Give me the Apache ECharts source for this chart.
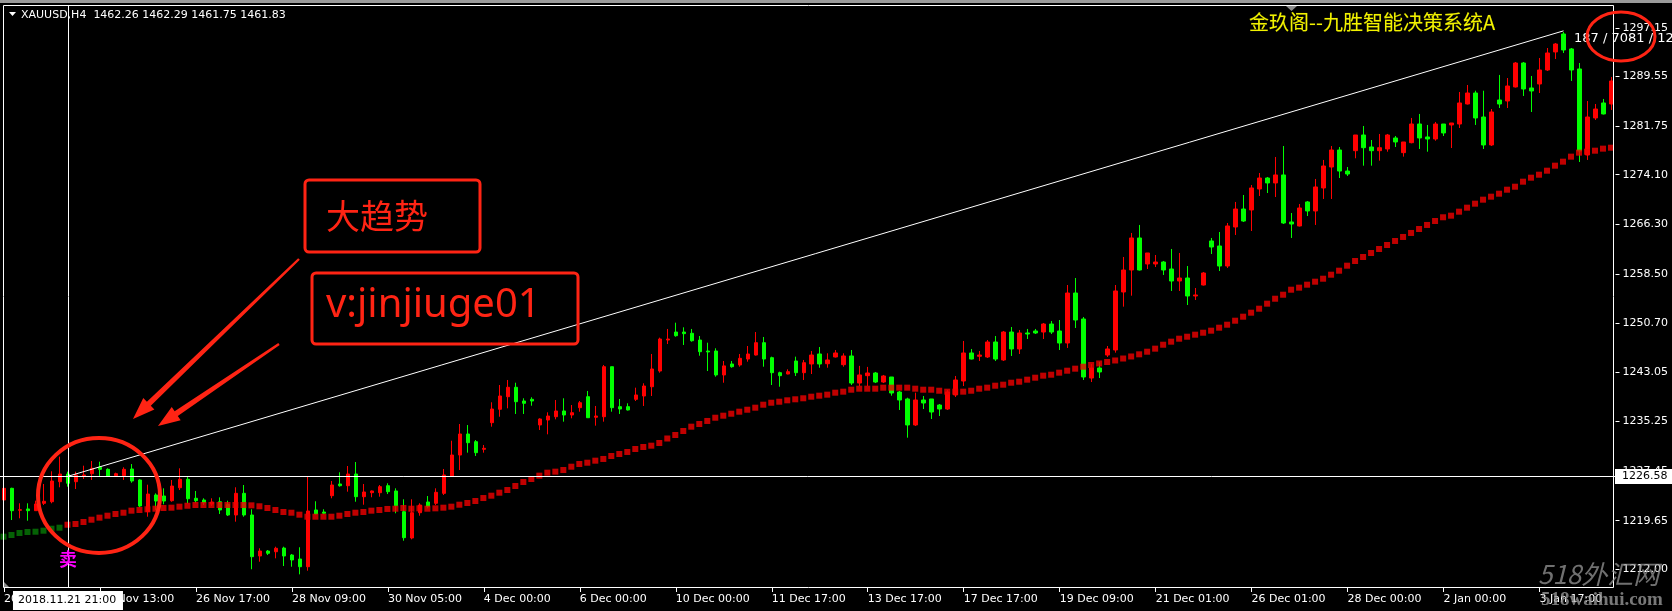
<!DOCTYPE html>
<html>
<head>
<meta charset="utf-8">
<script src="https://cdn.jsdelivr.net/npm/echarts@6/dist/echarts.min.js"></script>
<style>
html,body{margin:0;padding:0;background:#000;}
#c{width:1672px;height:611px;}
</style>
</head>
<body>
<div id="c"></div>
<script>
// ---- data (XAUUSD H4) ----
const tickLabels = ['20 Nov 13:00','22 Nov 13:00','26 Nov 17:00','28 Nov 09:00','30 Nov 05:00','4 Dec 00:00','6 Dec 00:00','10 Dec 00:00','11 Dec 17:00','13 Dec 17:00','17 Dec 17:00','19 Dec 09:00','21 Dec 01:00','26 Dec 01:00','28 Dec 00:00','2 Jan 00:00','3 Jan 17:00'];
const yTicks = [1212.00,1219.65,1227.45,1235.25,1243.05,1250.70,1258.50,1266.30,1274.10,1281.75,1289.55,1297.15];

const open = [1222.90,1224.74,1221.28,1221.49,1221.22,1222.38,1222.63,1225.78,1226.99,1225.78,1226.63,1227.04,1228.05,1227.73,1226.73,1226.73,1227.78,1226.05,1221.06,1223.69,1223.53,1222.79,1224.83,1226.16,1223.17,1222.90,1222.27,1222.63,1222.22,1220.54,1223.95,1220.54,1214.09,1214.87,1214.76,1215.34,1214.24,1213.61,1212.40,1221.33,1221.01,1223.58,1225.42,1225.15,1226.99,1223.42,1224.05,1224.05,1225.15,1224.32,1221.06,1216.92,1220.90,1222.59,1222.38,1223.95,1226.68,1229.98,1233.29,1232.08,1230.88,1235.07,1237.18,1239.16,1240.64,1238.48,1238.75,1234.71,1235.49,1236.01,1236.91,1236.28,1237.43,1239.16,1235.92,1236.01,1243.88,1237.59,1237.59,1238.75,1239.27,1240.73,1243.20,1248.08,1249.34,1249.34,1249.14,1248.08,1246.35,1246.35,1242.58,1244.31,1244.15,1245.09,1245.72,1247.66,1245.30,1242.94,1242.73,1244.78,1242.94,1244.31,1245.88,1244.35,1245.41,1244.20,1245.57,1241.31,1242.47,1242.89,1241.47,1242.26,1239.90,1238.80,1234.71,1238.64,1238.80,1237.85,1237.22,1239.43,1241.63,1246.04,1245.52,1245.41,1247.77,1244.94,1249.34,1246.67,1249.19,1249.50,1249.34,1250.60,1249.50,1247.61,1255.48,1251.39,1242.10,1243.68,1245.72,1246.51,1255.64,1259.10,1264.14,1260.05,1260.05,1260.36,1259.26,1257.37,1257.84,1255.01,1256.74,1263.67,1262.88,1259.73,1265.87,1268.70,1268.55,1271.85,1273.58,1272.80,1274.06,1266.66,1266.03,1269.81,1268.39,1272.01,1275.31,1277.99,1274.68,1277.88,1280.35,1278.46,1277.88,1278.15,1279.88,1277.57,1279.14,1282.08,1280.04,1279.72,1282.08,1281.93,1282.08,1285.23,1286.96,1283.18,1278.78,1285.86,1285.70,1287.91,1291.68,1287.75,1288.38,1290.58,1293.42,1296.25,1293.89,1290.74,1277.20,1283.03,1285.39,1285.23];
const close = [1224.74,1221.22,1221.38,1221.22,1222.27,1222.70,1225.89,1226.99,1225.53,1226.84,1226.84,1227.89,1227.73,1226.68,1227.04,1227.73,1225.89,1221.96,1223.84,1222.74,1222.74,1225.10,1226.16,1223.10,1222.79,1222.48,1222.59,1221.33,1220.54,1223.95,1220.54,1213.98,1214.87,1214.51,1215.30,1214.09,1213.46,1212.40,1221.17,1220.70,1220.81,1225.26,1225.15,1226.99,1223.42,1224.16,1224.32,1225.00,1224.21,1222.00,1216.97,1220.90,1222.11,1221.85,1224.11,1226.84,1229.98,1233.29,1231.92,1230.35,1231.04,1237.22,1239.27,1240.64,1238.37,1238.12,1238.48,1235.65,1236.12,1236.91,1236.28,1236.64,1238.21,1235.85,1236.12,1243.88,1237.43,1237.22,1237.07,1239.43,1240.84,1243.52,1248.24,1248.24,1248.76,1249.08,1247.97,1246.24,1246.20,1242.58,1244.01,1243.88,1245.20,1245.88,1247.66,1245.09,1242.94,1242.47,1243.10,1242.94,1244.51,1245.72,1244.31,1244.94,1246.04,1245.57,1241.31,1242.58,1242.89,1241.47,1242.42,1239.74,1238.64,1234.71,1238.64,1238.17,1236.75,1237.22,1239.90,1241.79,1246.04,1245.09,1245.72,1247.77,1245.09,1249.34,1246.67,1249.19,1249.03,1249.19,1250.60,1249.34,1247.61,1255.48,1251.23,1242.26,1243.68,1243.05,1246.67,1255.80,1259.10,1264.14,1259.10,1261.78,1260.36,1259.10,1257.37,1257.84,1255.01,1255.17,1258.63,1262.72,1259.73,1266.03,1268.70,1266.81,1272.01,1273.58,1272.80,1274.06,1266.50,1266.34,1268.86,1268.39,1272.17,1275.47,1277.99,1274.68,1274.21,1280.35,1278.35,1277.88,1278.35,1280.35,1279.25,1279.25,1282.08,1279.88,1279.72,1282.08,1280.67,1282.24,1285.39,1286.96,1283.03,1278.78,1283.97,1285.23,1288.06,1291.68,1287.59,1287.28,1290.58,1293.26,1294.67,1293.73,1290.58,1277.83,1283.18,1284.44,1283.66,1288.85];
const low = [1222.38,1219.75,1220.02,1219.64,1221.22,1222.11,1222.38,1224.90,1225.00,1224.63,1226.21,1226.05,1226.68,1226.60,1226.63,1226.05,1225.62,1221.75,1220.27,1221.33,1222.22,1222.63,1224.47,1222.38,1222.48,1222.11,1221.96,1220.70,1220.38,1219.49,1220.27,1212.00,1213.19,1214.24,1213.72,1212.51,1212.40,1211.20,1211.77,1220.62,1220.65,1223.17,1225.00,1224.21,1222.63,1222.16,1223.33,1223.42,1223.84,1220.81,1216.49,1216.71,1220.43,1221.59,1222.11,1223.69,1226.57,1227.62,1230.35,1229.83,1230.35,1234.44,1236.01,1237.33,1236.44,1236.44,1237.74,1233.92,1233.24,1235.60,1235.23,1235.76,1236.80,1235.81,1234.60,1235.23,1236.80,1236.44,1236.99,1238.48,1237.70,1239.27,1242.94,1247.45,1248.60,1247.30,1247.82,1245.61,1243.20,1242.31,1241.36,1243.72,1243.88,1244.67,1245.64,1243.88,1241.00,1240.73,1242.69,1242.42,1241.79,1242.73,1243.72,1243.72,1245.33,1243.88,1241.00,1240.84,1240.84,1241.31,1241.31,1239.32,1237.07,1232.71,1234.55,1237.22,1235.65,1236.12,1237.07,1239.11,1240.84,1245.02,1244.78,1245.25,1244.78,1244.78,1245.57,1245.88,1248.24,1249.03,1248.24,1249.03,1246.51,1246.83,1249.97,1241.79,1241.47,1242.10,1245.41,1246.09,1253.33,1255.06,1259.02,1259.26,1259.57,1258.32,1255.80,1255.80,1253.59,1254.38,1256.66,1261.62,1258.94,1259.42,1264.61,1266.66,1265.24,1270.75,1271.22,1270.59,1266.34,1264.14,1265.95,1267.60,1266.19,1270.28,1270.28,1273.58,1273.90,1276.68,1275.52,1275.52,1276.31,1277.72,1278.46,1276.94,1279.04,1278.15,1277.72,1279.45,1280.19,1278.30,1281.45,1285.15,1281.93,1278.15,1278.62,1284.60,1284.60,1287.83,1286.49,1283.97,1286.96,1290.43,1292.31,1293.26,1288.85,1276.10,1276.42,1282.71,1283.58,1284.29];
const high = [1228.68,1224.83,1222.38,1222.38,1222.79,1225.42,1227.42,1229.72,1227.36,1227.36,1228.30,1229.04,1228.93,1227.89,1227.20,1228.05,1228.56,1226.16,1225.31,1223.95,1224.74,1226.05,1227.89,1226.57,1224.32,1223.17,1223.17,1223.32,1222.79,1224.90,1225.26,1221.44,1215.30,1215.03,1215.55,1215.55,1214.40,1215.46,1226.57,1222.70,1221.44,1225.89,1227.26,1228.25,1228.88,1225.42,1224.40,1225.26,1225.53,1224.74,1223.01,1223.01,1222.38,1223.53,1224.74,1227.78,1232.23,1234.86,1234.70,1232.34,1231.56,1238.28,1241.00,1241.79,1241.36,1238.91,1239.07,1235.76,1236.70,1238.64,1238.91,1237.85,1238.48,1240.06,1237.70,1244.15,1243.88,1238.80,1238.12,1240.58,1241.27,1245.88,1248.45,1249.82,1250.81,1250.08,1249.82,1248.71,1247.66,1246.78,1244.78,1244.78,1245.88,1247.14,1249.34,1248.56,1245.46,1243.10,1243.47,1245.46,1244.94,1246.35,1246.98,1245.99,1246.51,1245.99,1246.51,1244.01,1243.85,1243.05,1242.58,1242.26,1240.06,1239.00,1239.79,1239.27,1238.80,1238.01,1240.21,1242.42,1247.93,1246.67,1246.35,1248.08,1248.71,1249.50,1250.13,1249.66,1249.82,1249.82,1250.76,1251.07,1251.23,1256.74,1257.84,1251.70,1244.31,1244.62,1247.14,1256.74,1261.15,1264.93,1266.19,1261.78,1261.46,1260.52,1262.41,1261.78,1259.73,1256.27,1258.79,1264.14,1265.08,1266.50,1269.81,1270.91,1272.48,1274.37,1273.74,1276.89,1278.62,1268.07,1269.49,1269.96,1273.43,1276.42,1278.62,1278.46,1275.31,1280.35,1281.77,1279.56,1280.51,1280.51,1280.19,1279.25,1283.03,1283.66,1281.93,1282.40,1282.08,1282.24,1287.12,1288.22,1287.32,1287.32,1284.44,1289.80,1289.32,1291.84,1291.84,1289.64,1292.47,1294.04,1294.83,1296.56,1294.04,1291.68,1285.70,1285.23,1286.02,1289.48];
const maLine = [1217.13,1217.39,1217.71,1217.86,1217.91,1218.07,1218.38,1218.54,1219.01,1219.12,1219.44,1219.80,1220.12,1220.43,1220.70,1220.90,1221.22,1221.33,1221.44,1221.53,1221.64,1221.69,1221.85,1222.00,1222.11,1222.11,1222.11,1222.11,1222.11,1222.11,1222.11,1222.06,1221.91,1221.64,1221.33,1221.01,1220.90,1220.59,1220.27,1220.27,1220.27,1220.27,1220.43,1220.70,1220.90,1221.01,1221.22,1221.33,1221.49,1221.53,1221.64,1221.53,1221.59,1221.53,1221.59,1221.69,1221.85,1222.16,1222.43,1222.74,1223.21,1223.58,1224.05,1224.47,1225.10,1225.73,1226.21,1226.73,1227.20,1227.36,1227.62,1228.14,1228.57,1228.77,1229.09,1229.36,1229.83,1230.14,1230.46,1230.93,1231.24,1231.45,1231.87,1232.58,1233.13,1233.76,1234.44,1234.86,1235.34,1235.85,1236.17,1236.48,1236.80,1237.11,1237.43,1237.90,1238.21,1238.37,1238.59,1238.75,1238.91,1239.16,1239.32,1239.48,1239.79,1239.95,1240.26,1240.42,1240.42,1240.42,1240.58,1240.58,1240.58,1240.58,1240.42,1240.26,1240.26,1240.10,1239.95,1239.95,1239.95,1240.10,1240.42,1240.58,1240.89,1241.05,1241.36,1241.52,1241.84,1242.15,1242.47,1242.62,1242.94,1243.25,1243.57,1243.88,1244.15,1244.39,1244.62,1244.86,1245.17,1245.49,1245.83,1246.24,1246.72,1247.34,1247.82,1248.29,1248.60,1248.92,1249.23,1249.55,1250.02,1250.49,1251.12,1251.75,1252.38,1253.01,1253.80,1254.58,1255.21,1256.00,1256.32,1256.79,1257.26,1257.73,1258.36,1258.99,1259.78,1260.52,1261.15,1261.78,1262.41,1263.04,1263.67,1264.30,1264.93,1265.55,1266.19,1266.81,1267.40,1267.65,1268.28,1268.91,1269.54,1270.17,1270.64,1271.11,1271.74,1272.21,1273.00,1273.63,1274.10,1274.73,1275.52,1276.15,1276.94,1277.57,1277.72,1277.88,1278.20,1278.35];
const maGreenBars = 8;           // first bars of the trend line drawn green
const crossBar = 8, crossPrice = 1226.58;
const trendStart = [8, 1226.63], trendEnd = [195, 1296.74];
const headerText = 'XAUUSD,H4  1462.26 1462.29 1461.75 1461.83';
const titleText = '金玖阁--九胜智能决策系统A';
const infoText = '187 / 7081 / 1297.15';

// ---- build ----
const categories = open.map((_, i) => String(i));
const ohlc = open.map((o, i) => [o, close[i], low[i], high[i]]);
const maGreen = maLine.slice(0, maGreenBars).map((v, i) => [i, v]);
const maRed = maLine.slice(maGreenBars).map((v, i) => [i + maGreenBars, v]);

const chart = echarts.init(document.getElementById('c'), null, {renderer: 'canvas', width: 1672, height: 611});
const FONT = '"DejaVu Sans", sans-serif';
const RED = '#ff2414';

chart.setOption({
  animation: false,
  backgroundColor: '#000',
  grid: {left: -0.5, top: 5, width: 1616, height: 583, show: false},
  xAxis: {
    type: 'category', data: categories, boundaryGap: true,
    axisLine: {show: false},
    axisTick: {show: true, alignWithLabel: true, interval: 11, length: 4, lineStyle: {color: '#fff'}},
    axisLabel: {interval: 11, align: 'left', color: '#fff', fontFamily: FONT, fontSize: 11, margin: 6,
      formatter: (v, idx) => (idx % 12 === 0 ? (tickLabels[idx / 12] || '') : '')},
    splitLine: {show: false}
  },
  yAxis: {
    type: 'value', position: 'right', min: 1209.05, max: 1300.81, scale: true,
    axisLine: {show: false},
    splitLine: {show: false},
    axisTick: {show: true, length: 4, customValues: yTicks, lineStyle: {color: '#fff'}},
    axisLabel: {customValues: yTicks, color: '#fff', fontFamily: FONT, fontSize: 11, margin: 7,
      formatter: v => v.toFixed(2)}
  },
  series: [
    {
      type: 'candlestick', data: ohlc, barWidth: 4, z: 3,
      itemStyle: {color: '#ff0000', color0: '#00ff00', borderColor: '#ff0000', borderColor0: '#00ff00', borderWidth: 1},
      markLine: {
        silent: true, symbol: ['none', 'none'], animation: false,
        label: {show: false},
        lineStyle: {color: '#ffffff', width: 1, type: 'solid'},
        data: [
          {xAxis: crossBar},
          {yAxis: crossPrice},
          [{coord: trendStart}, {coord: trendEnd}]
        ]
      }
    },
    {type: 'scatter', data: maGreen, symbol: 'rect', symbolSize: [6, 6], symbolOffset: [-0.5, 0], z: 4,
      itemStyle: {color: '#067a06'}},
    {type: 'scatter', data: maRed, symbol: 'rect', symbolSize: [6, 6], symbolOffset: [-0.5, 0], z: 4,
      itemStyle: {color: '#f00000'}}
  ]
});

// overlay graphics
const cp = chart.convertToPixel({gridIndex: 0}, [crossBar, crossPrice]);
function arrow(tail, tip, head, half) {
  const dx = tip[0] - tail[0], dy = tip[1] - tail[1];
  const L = Math.hypot(dx, dy), ux = dx / L, uy = dy / L, nx = -uy, ny = ux;
  const bx = tip[0] - ux * head, by = tip[1] - uy * head;
  const w0 = 1.2, w1 = 2.8;
  return {type: 'polygon', z: 100, shape: {points: [
    [tail[0] + nx * w0, tail[1] + ny * w0],
    [bx + nx * w1, by + ny * w1],
    [bx + nx * half, by + ny * half],
    tip,
    [bx - nx * half, by - ny * half],
    [bx - nx * w1, by - ny * w1],
    [tail[0] - nx * w0, tail[1] - ny * w0]
  ]}, style: {fill: RED}};
}

chart.setOption({graphic: [
  {type: 'rect', z: 90, shape: {x: 0, y: 0, width: 1672, height: 3}, style: {fill: '#9a9a9a'}},
  {type: 'rect', z: 90, shape: {x: 3.5, y: 5.5, width: 1610, height: 582}, style: {fill: 'none', stroke: '#fff', lineWidth: 1}},
  {type: 'polygon', z: 91, shape: {points: [[9, 12], [16, 12], [12.5, 16]]}, style: {fill: '#fff'}},
  {type: 'text', z: 91, style: {text: headerText, x: 21, y: 15, fill: '#fff', font: '11px ' + FONT, textVerticalAlign: 'middle'}},
  {type: 'polygon', z: 91, shape: {points: [[1286, 6], [1297, 6], [1291.5, 11]]}, style: {fill: '#8c8c8c'}},
  {type: 'polygon', z: 91, shape: {points: [[4, 582], [4, 587], [9, 587]]}, style: {fill: '#8c8c8c'}},
  {type: 'text', z: 91, style: {text: titleText, x: 1249, y: 22, fill: '#f2f200', stroke: '#303000', lineWidth: 0.5, font: '20px "Noto Sans CJK SC"', textVerticalAlign: 'middle'}},
  {type: 'text', z: 92, style: {text: infoText, x: 1574, y: 39, fill: '#fff', font: '13px ' + FONT, textVerticalAlign: 'middle'}},
  // crosshair boxes
  {type: 'rect', z: 95, shape: {x: 1615, y: cp[1] - 7.5, width: 57, height: 15}, style: {fill: '#fff'}},
  {type: 'text', z: 96, style: {text: crossPrice.toFixed(2), x: 1622, y: cp[1], fill: '#000', font: '11px ' + FONT, textVerticalAlign: 'middle'}},
  {type: 'rect', z: 95, shape: {x: cp[0] - 55, y: 591, width: 110, height: 19}, style: {fill: '#fff'}},
  {type: 'text', z: 96, style: {text: '2018.11.21 21:00', x: cp[0] - 50, y: 600.5, fill: '#000', font: '11px ' + FONT, textVerticalAlign: 'middle'}},
  // annotations
  {type: 'rect', z: 100, shape: {x: 305, y: 180, width: 175, height: 72, r: 4}, style: {fill: 'none', stroke: RED, lineWidth: 3}},
  {type: 'text', z: 100, style: {text: '大趋势', x: 326, y: 216, fill: RED, font: '34px "Noto Sans CJK SC"', textVerticalAlign: 'middle'}},
  {type: 'rect', z: 100, shape: {x: 312, y: 273, width: 266, height: 71, r: 4}, style: {fill: 'none', stroke: RED, lineWidth: 3}},
  {type: 'text', z: 100, style: {text: 'v:jinjiuge01', x: 326, y: 306, fill: RED, font: '40px "Noto Sans"', textVerticalAlign: 'middle'}},
  arrow([299, 259], [133, 419], 22, 8),
  arrow([279, 344], [158, 426], 22, 8),
  {type: 'ellipse', z: 100, shape: {cx: 99, cy: 495.5, rx: 61, ry: 57.5}, style: {fill: 'none', stroke: RED, lineWidth: 4}},
  {type: 'ellipse', z: 100, shape: {cx: 1621, cy: 36.5, rx: 34, ry: 24.5}, style: {fill: 'none', stroke: RED, lineWidth: 3}},
  {type: 'text', z: 100, style: {text: '卖', x: 68, y: 559, fill: '#ff00ff', font: 'bold 18px "Noto Sans CJK SC"', textAlign: 'center', textVerticalAlign: 'middle'}},
  // watermark
  {type: 'text', z: 101, style: {text: '518外汇网', x: 1538, y: 574, fill: 'rgba(150,150,150,0.75)', font: 'italic 26px "Noto Sans CJK SC"', textVerticalAlign: 'middle'}},
  {type: 'text', z: 101, style: {text: '518waihui.com', x: 1541, y: 600, fill: 'rgba(150,150,150,0.8)', font: 'bold 19px "Liberation Serif"', textVerticalAlign: 'middle'}}
]});
</script>
</body>
</html>
